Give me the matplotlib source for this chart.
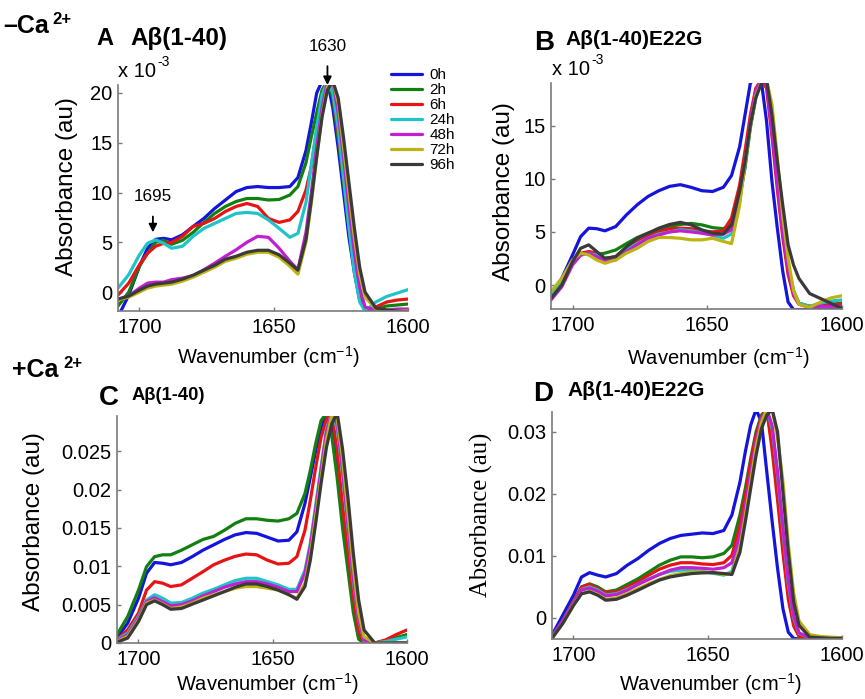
import matplotlib
matplotlib.use('Agg')
import matplotlib.pyplot as plt
from matplotlib.ticker import FuncFormatter

plt.rcParams['font.family'] = ['Liberation Sans', 'DejaVu Sans']
plt.rcParams['mathtext.fontset'] = 'custom'
plt.rcParams['mathtext.rm'] = 'Liberation Sans'
plt.rcParams['mathtext.it'] = 'Liberation Sans:italic'
plt.rcParams['mathtext.bf'] = 'Liberation Sans:bold'

# wavenumber grid (cm-1) the spectra were read at
wn = [1708, 1704, 1700, 1697, 1694, 1691, 1688, 1684, 1680, 1676, 1672, 1668,
      1664, 1660, 1656, 1652, 1648, 1644, 1641, 1638, 1636, 1634, 1632, 1630,
      1628, 1626, 1624, 1622, 1620, 1618, 1616, 1612, 1608, 1604, 1600]

times = ['0h', '2h', '6h', '24h', '48h', '72h', '96h']
colors = ['#1414dc', '#118011', '#e61414', '#1ec4c8', '#c21ed2', '#bdb413', '#3a3a3a']

# absorbance values, all in units of 1e-3
# A: Abeta(1-40), no Ca
abs_a = [
    [-2.5, -0.3, 2.6, 4.4, 5.3, 5.4, 5.25, 5.75, 6.6, 7.4, 8.4, 9.25, 10.1, 10.5, 10.6, 10.5, 10.5, 10.6, 11.5, 14.2, 17.0, 20.0, 21.2, 21.2, 18.5, 14.5, 10.0, 5.5, 2.0, -0.8, -1.8, -1.9, -1.9, -1.9, -1.9],
    [-1.4, 0.0, 2.6, 3.9, 5.0, 5.2, 4.8, 5.2, 6.0, 7.0, 7.9, 8.6, 9.1, 9.4, 9.4, 9.25, 9.3, 9.75, 10.6, 13.0, 15.6, 18.0, 20.3, 21.2, 19.5, 15.5, 11.0, 6.5, 2.5, -0.5, -1.7, -1.7, -1.4, -1.3, -1.2],
    [-0.3, 0.9, 2.75, 3.9, 4.6, 4.9, 5.0, 5.6, 6.6, 6.9, 7.4, 8.1, 8.6, 8.9, 8.6, 7.4, 7.0, 7.25, 8.1, 10.25, 12.6, 16.3, 19.5, 21.2, 20.0, 16.0, 11.5, 6.8, 2.7, -0.3, -1.6, -1.5, -1.0, -0.8, -0.7],
    [0.4, 1.75, 3.75, 4.9, 5.25, 4.9, 4.4, 4.6, 5.6, 6.4, 6.9, 7.4, 7.9, 8.0, 7.9, 7.25, 6.4, 5.5, 5.9, 9.0, 12.8, 16.5, 19.8, 21.2, 20.0, 16.5, 11.5, 6.5, 2.0, -1.0, -1.9, -1.0, -0.45, -0.1, 0.25],
    [-0.75, -0.4, 0.4, 0.9, 1.0, 1.0, 1.25, 1.4, 1.65, 2.25, 2.9, 3.6, 4.25, 5.0, 5.6, 5.5, 4.4, 3.1, 2.25, 6.0, 10.0, 14.5, 18.5, 21.2, 21.2, 18.0, 13.5, 8.5, 4.0, 0.5, -1.5, -1.8, -1.8, -1.7, -1.7],
    [-0.8, -0.5, 0.0, 0.4, 0.6, 0.7, 0.8, 1.1, 1.5, 2.0, 2.5, 3.1, 3.4, 3.8, 4.0, 4.0, 3.5, 2.6, 1.8, 5.0, 9.0, 13.5, 17.8, 20.6, 21.2, 19.0, 14.5, 10.0, 5.5, 1.8, -0.5, -1.7, -1.8, -1.9, -1.9],
    [-0.7, -0.4, 0.2, 0.6, 0.8, 0.9, 1.0, 1.3, 1.7, 2.2, 2.7, 3.3, 3.6, 4.0, 4.2, 4.2, 3.75, 2.9, 2.2, 5.3, 9.25, 13.6, 17.6, 20.3, 21.2, 19.5, 15.5, 11.0, 6.5, 2.5, 0.0, -1.6, -1.8, -1.9, -2.0],
]
# B: Abeta(1-40)E22G, no Ca
abs_b = [
    [-0.94, 0.63, 2.83, 4.56, 5.35, 5.3, 5.1, 5.5, 6.6, 7.55, 8.33, 8.87, 9.28, 9.44, 9.19, 8.87, 8.8, 9.2, 10.3, 13.0, 16.0, 19.0, 19.5, 19.3, 15.4, 9.75, 5.35, 1.3, -1.6, -2.3, -2.3, -2.3, -2.3, -2.3, -2.3],
    [-1.1, 0.31, 2.36, 2.9, 3.0, 2.9, 3.0, 3.3, 3.9, 4.47, 4.88, 5.19, 5.5, 5.7, 5.8, 5.66, 5.4, 5.3, 5.7, 8.2, 11.0, 14.8, 17.6, 19.3, 19.3, 15.5, 10.5, 5.5, 1.8, -0.5, -1.7, -2.0, -1.9, -1.8, -1.7],
    [-0.94, 0.47, 2.36, 3.0, 3.15, 3.0, 2.5, 2.67, 3.46, 4.1, 4.56, 5.0, 5.3, 5.35, 5.3, 5.1, 5.0, 5.1, 6.3, 9.4, 12.6, 16.0, 18.5, 19.3, 18.5, 14.0, 9.0, 4.5, 1.0, -1.0, -1.8, -2.0, -1.9, -1.85, -1.8],
    [-0.8, 0.4, 2.3, 2.9, 3.0, 2.8, 2.5, 2.6, 3.3, 3.9, 4.4, 4.8, 5.0, 5.2, 5.1, 4.9, 4.7, 4.4, 4.8, 8.0, 11.5, 15.0, 17.9, 19.2, 19.3, 15.5, 10.5, 5.5, 1.8, -0.6, -1.7, -2.0, -1.7, -1.5, -1.4],
    [-1.4, -0.16, 1.9, 2.8, 3.0, 2.67, 2.26, 2.36, 3.15, 3.8, 4.4, 4.7, 5.0, 5.1, 5.0, 4.88, 4.7, 4.8, 5.2, 7.9, 11.5, 15.5, 18.3, 19.3, 18.8, 14.5, 9.5, 5.0, 1.5, -0.8, -1.8, -2.1, -2.0, -2.0, -2.0],
    [-0.6, 0.63, 2.36, 3.0, 2.83, 2.36, 2.05, 2.36, 3.0, 3.46, 4.1, 4.47, 4.47, 4.4, 4.25, 4.25, 4.4, 4.1, 3.9, 7.5, 11.5, 15.0, 17.8, 19.0, 19.3, 17.0, 12.0, 6.5, 2.5, -0.5, -1.8, -2.1, -1.6, -1.2, -1.0],
    [-1.25, 0.0, 2.2, 3.46, 3.78, 3.15, 2.52, 2.67, 3.6, 4.4, 4.88, 5.35, 5.7, 5.9, 5.66, 5.19, 4.88, 4.8, 5.66, 8.8, 11.6, 15.1, 17.6, 18.9, 19.3, 16.0, 11.6, 7.55, 3.78, 1.89, 0.63, -0.8, -1.26, -1.73, -2.2],
]
# C: Abeta(1-40), with Ca
abs_c = [
    [0.65, 2.6, 5.84, 9.1, 10.5, 10.4, 10.2, 10.5, 11.26, 12.1, 12.8, 13.5, 14.1, 14.4, 14.3, 13.8, 13.3, 13.4, 14.5, 18.2, 21.6, 25.1, 28.1, 29.8, 28.0, 22.5, 16.0, 10.8, 4.8, 0.65, 0.0, 0.0, 0.0, 0.0, 0.0],
    [1.08, 3.46, 6.9, 9.96, 11.26, 11.5, 11.5, 12.1, 12.8, 13.5, 13.9, 14.7, 15.6, 16.2, 16.2, 16.0, 15.9, 16.2, 16.9, 19.5, 22.5, 26.0, 29.0, 30.0, 27.0, 21.5, 15.0, 9.5, 4.0, 0.5, 0.0, 0.0, 0.3, 0.7, 1.1],
    [0.43, 1.73, 3.9, 6.9, 8.0, 7.8, 7.36, 7.58, 8.44, 9.3, 10.2, 10.8, 11.3, 11.6, 11.5, 10.8, 10.3, 10.4, 11.26, 14.7, 18.6, 22.9, 26.8, 29.2, 30.0, 25.0, 18.0, 12.0, 6.0, 1.5, 0.0, 0.0, 0.4, 1.1, 1.7],
    [0.43, 1.3, 3.46, 5.6, 6.3, 5.84, 5.2, 5.28, 5.84, 6.5, 7.0, 7.58, 8.14, 8.44, 8.44, 8.0, 7.58, 7.0, 7.0, 9.5, 13.0, 18.0, 23.0, 27.8, 30.0, 28.0, 22.0, 15.0, 8.0, 3.0, 0.3, 0.0, 0.2, 0.5, 0.8],
    [0.35, 1.08, 3.25, 5.4, 5.9, 5.4, 4.85, 5.0, 5.5, 6.15, 6.7, 7.27, 7.7, 8.0, 8.0, 7.7, 7.27, 6.7, 6.7, 9.1, 12.6, 17.5, 22.5, 27.5, 30.0, 28.5, 22.5, 15.5, 8.5, 3.2, 0.4, 0.0, 0.0, 0.0, 0.0],
    [0.2, 0.87, 3.0, 5.2, 5.6, 5.1, 4.5, 4.7, 5.2, 5.84, 6.3, 6.7, 7.14, 7.36, 7.36, 7.14, 6.9, 6.3, 5.84, 7.8, 11.5, 16.5, 21.5, 26.5, 29.8, 29.3, 24.0, 17.0, 10.0, 4.0, 0.8, 0.0, 0.0, 0.0, 0.0],
    [0.1, 0.65, 2.8, 5.0, 5.5, 5.0, 4.4, 4.5, 5.06, 5.6, 6.15, 6.7, 7.27, 7.7, 7.7, 7.36, 6.9, 6.3, 5.7, 7.36, 10.8, 15.6, 20.8, 25.5, 28.6, 30.0, 25.3, 19.0, 11.7, 5.6, 1.7, 0.0, 0.0, 0.0, 0.0],
]
# D: Abeta(1-40)E22G, with Ca
abs_d = [
    [-2.8, 0.43, 3.66, 6.6, 7.3, 6.9, 6.6, 7.15, 8.5, 9.57, 10.9, 12.0, 12.8, 13.3, 13.5, 13.7, 13.6, 14.1, 16.6, 21.9, 26.8, 31.1, 33.6, 31.6, 23.5, 15.5, 8.0, 1.5, -2.3, -3.3, -3.4, -3.4, -3.4, -3.4, -3.4],
    [-3.1, -0.4, 2.7, 5.0, 5.5, 5.0, 4.2, 4.5, 5.4, 6.3, 7.4, 8.5, 9.3, 9.84, 9.84, 9.7, 9.84, 10.4, 11.7, 16.6, 20.9, 25.7, 30.0, 32.7, 33.6, 28.0, 20.0, 11.5, 4.0, -0.8, -2.8, -3.3, -3.3, -3.3, -3.3],
    [-3.1, -0.5, 2.6, 5.0, 5.4, 4.7, 4.1, 4.2, 5.0, 5.8, 6.9, 7.85, 8.5, 8.9, 8.9, 8.7, 8.6, 8.9, 10.1, 14.9, 19.8, 25.2, 29.5, 32.4, 33.6, 27.0, 19.0, 10.5, 3.0, -1.3, -3.0, -3.3, -3.3, -3.3, -3.3],
    [-3.0, -0.6, 2.4, 4.6, 5.0, 4.5, 3.7, 3.9, 4.6, 5.4, 6.3, 7.0, 7.5, 7.7, 7.7, 7.5, 7.2, 6.9, 7.5, 12.5, 17.5, 23.0, 28.0, 32.0, 33.6, 30.5, 23.0, 14.0, 5.5, 0.0, -2.5, -3.2, -3.2, -3.2, -3.2],
    [-3.0, -0.5, 2.5, 4.5, 4.8, 4.3, 3.55, 3.76, 4.46, 5.4, 6.2, 7.0, 7.7, 8.1, 8.1, 8.0, 7.85, 8.1, 8.9, 13.3, 18.0, 23.5, 28.5, 32.0, 33.6, 31.0, 23.5, 14.5, 6.0, 0.3, -2.4, -3.2, -3.3, -3.3, -3.3],
    [-3.3, -0.9, 2.1, 3.9, 4.3, 3.76, 3.0, 3.2, 3.9, 4.7, 5.5, 6.2, 6.8, 7.15, 7.4, 7.4, 7.3, 7.0, 7.15, 11.5, 16.5, 22.0, 27.5, 31.5, 33.6, 33.6, 29.0, 22.0, 12.0, 4.0, -0.5, -2.7, -3.0, -3.1, -3.2],
    [-3.3, -0.9, 2.0, 3.9, 4.2, 3.66, 2.85, 3.0, 3.66, 4.46, 5.3, 6.1, 6.6, 6.9, 7.15, 7.26, 7.3, 7.15, 7.0, 10.6, 15.5, 20.9, 26.2, 30.5, 32.7, 33.6, 30.0, 20.3, 10.6, 2.6, -1.2, -3.1, -3.2, -3.3, -3.3],
]

W, H = 865, 699
fig = plt.figure(figsize=(W / 100, H / 100), dpi=100)


def px_axes(left, top, right, bottom):
    return fig.add_axes([left / W, 1 - bottom / H, (right - left) / W, (bottom - top) / H])


def style(ax, ylim, yticks):
    ax.set_xlim(1708, 1600)
    ax.set_xticks([1700, 1650, 1600])
    ax.set_ylim(*ylim)
    ax.set_yticks(yticks)
    ax.yaxis.set_major_formatter(FuncFormatter(lambda v, p: '%g' % round(v, 4)))
    for s in ['top', 'right']:
        ax.spines[s].set_visible(False)
    for s in ['left', 'bottom']:
        ax.spines[s].set_color('#7a7a7a')
        ax.spines[s].set_linewidth(1.2)
    ax.tick_params(direction='in', length=3, width=1, color='#7a7a7a', labelsize=14.5)
    ax.tick_params(axis='x', pad=5)
    ax.tick_params(axis='y', pad=4)


def draw(ax, data, scale):
    lines = []
    for vals, c, t in zip(data, colors, times):
        ln, = ax.plot(wn, [v * scale for v in vals], color=c, lw=2.3, label=t,
                      solid_capstyle='round', solid_joinstyle='round')
        lines.append(ln)
    return lines


# panel A
axA = px_axes(118, 85, 408, 311)
linesA = draw(axA, abs_a, 1)
style(axA, (-1.9, 20.8), [0, 5, 10, 15, 20])
# panel B
axB = px_axes(551, 83, 842, 309)
draw(axB, abs_b, 1)
style(axB, (-2.25, 19.0), [0, 5, 10, 15])
# panel C
axC = px_axes(117, 416, 407, 643)
draw(axC, abs_c, 1e-3)
style(axC, (0, 0.0296), [0, 0.005, 0.01, 0.015, 0.02, 0.025])
# panel D
axD = px_axes(552, 412, 842, 639)
draw(axD, abs_d, 1e-3)
style(axD, (-0.0034, 0.0332), [0, 0.01, 0.02, 0.03])

xl = 'Wavenumber (cm$^{-1}$)'
for ax, xc, yb in [(axA, 0.52, -0.145), (axB, 0.574, -0.16), (axC, 0.519, -0.125), (axD, 0.545, -0.143)]:
    ax.set_xlabel(xl, fontsize=14.5)
    ax.xaxis.set_label_coords(xc, yb)

for ax, xr, yc, fam in [(axA, -0.138, 0.551, None), (axB, -0.124, 0.52, None),
                        (axC, -0.248, 0.535, None),
                        (axD, -0.203, 0.546, ['Liberation Serif', 'DejaVu Serif'])]:
    if fam:
        ax.set_ylabel('Absorbance (au)', fontsize=17.8, family=fam)
    else:
        ax.set_ylabel('Absorbance (au)', fontsize=17.5)
    ax.yaxis.set_label_coords(xr, yc)


def ftext(x, y, s, **kw):
    fig.text(x / W, 1 - y / H, s, **kw)


# exponent labels
ftext(118, 77, 'x 10', fontsize=14.5, va='baseline')
ftext(157, 66, '-3', fontsize=10, va='baseline')
ftext(552, 75, 'x 10', fontsize=14.5, va='baseline')
ftext(591, 64, '-3', fontsize=10, va='baseline')

# condition and panel titles
ftext(3, 33, '\u2013Ca', fontsize=18, fontweight='bold', va='baseline')
ftext(52, 24, '2+', fontsize=12, fontweight='bold', va='baseline')
ftext(12, 377, '+Ca', fontsize=18, fontweight='bold', va='baseline')
ftext(63, 368, '2+', fontsize=12, fontweight='bold', va='baseline')

ftext(96, 45, 'A', fontsize=17, fontweight='bold', va='baseline')
ftext(130, 45, 'A\u03b2(1-40)', fontsize=17.5, fontweight='bold', va='baseline')
ftext(534, 50, 'B', fontsize=20, fontweight='bold', va='baseline')
ftext(565, 45, 'A\u03b2(1-40)E22G', fontsize=15, fontweight='bold', va='baseline')
ftext(99, 405, 'C', fontsize=20, fontweight='bold', va='baseline')
ftext(132, 400, 'A\u03b2(1-40)', fontsize=13.2, fontweight='bold', va='baseline')
ftext(533, 401, 'D', fontsize=20, fontweight='bold', va='baseline')
ftext(567, 396, 'A\u03b2(1-40)E22G', fontsize=15, fontweight='bold', va='baseline')

# peak markers in panel A
peak_labels = [(1630, 20.8, 24.7), (1695, 6.0, 9.6)]
for wpk, ytip, ytxt in peak_labels:
    axA.annotate('%d' % wpk, xy=(wpk, ytip), xytext=(wpk, ytxt), fontsize=12.3,
                 ha='center', va='center', annotation_clip=False,
                 arrowprops=dict(arrowstyle='-|>', color='black', lw=1.3,
                                 mutation_scale=12, shrinkA=7, shrinkB=0))

fig.legend(handles=linesA, labels=times, loc='upper left',
           bbox_to_anchor=(391 / W, 1 - 68 / H), frameon=False, fontsize=11,
           handlelength=2.0, handletextpad=0.5, labelspacing=0.07,
           borderaxespad=0, borderpad=0)

fig.savefig('out.png', dpi=100)
